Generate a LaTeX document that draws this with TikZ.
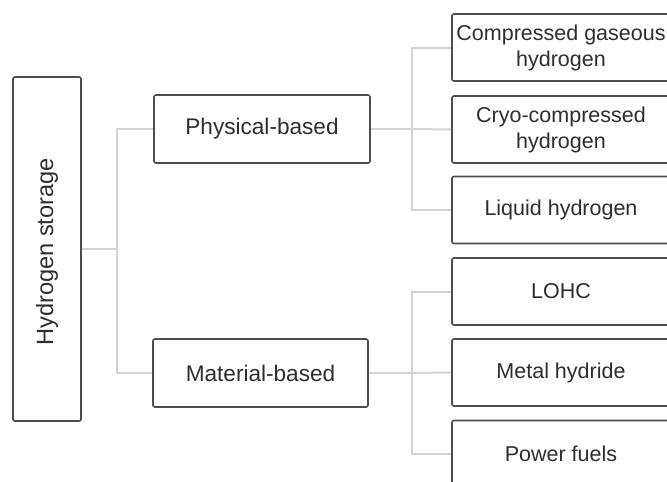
\documentclass[tikz,border=0pt]{standalone}
\usepackage{fontspec}
\setmainfont{Liberation Sans}
\definecolor{boxline}{HTML}{4D4D4D}
\definecolor{txt}{HTML}{2E2E2E}
\definecolor{conncol}{HTML}{D4D4D4}
\begin{document}
\begin{tikzpicture}[x=1pt,y=-1pt,
  box/.style={draw=boxline,line width=1.6pt,rounded corners=2pt,fill=white,
    text=txt,align=center,inner sep=0pt,
    font=\fontsize{21.5}{26}\selectfont},
  midbox/.style={box,font=\fontsize{22.6}{27}\selectfont},
  conn/.style={draw=conncol,line width=2pt}]
\useasboundingbox (0,0) rectangle (667,482);
\clip (0,0) rectangle (667,482);
\fill[white] (0,0) rectangle (667,482);
% nodes
\node[box,minimum width=68pt,minimum height=344pt] (root) at (47,249) {};
\node[rotate=90,text=txt,font=\fontsize{23.6}{28}\selectfont] (roottxt) at (47,252) {Hydrogen storage};
\node[midbox,minimum width=216pt,minimum height=68pt] (phys) at (262,129) {Physical-based};
\node[midbox,minimum width=215pt,minimum height=68pt] (mat) at (260.5,373) {Material-based};
\node[box,minimum width=218pt,minimum height=67pt] (c1) at (561,47.5) {Compressed gaseous\\hydrogen};
\node[box,minimum width=218pt,minimum height=67pt] (c2) at (561,129.5) {Cryo-compressed\\hydrogen};
\node[box,minimum width=218pt,minimum height=67pt] (c3) at (561,210) {Liquid hydrogen};
\node[box,minimum width=218pt,minimum height=67pt] (c4) at (561,291.5) {LOHC};
\node[box,minimum width=218pt,minimum height=67pt] (c5) at (561,372.5) {Metal hydride};
\node[box,minimum width=218pt,minimum height=67pt] (c6) at (561,454) {Power fuels};
% bus points
\coordinate (b1) at (117,249);
\coordinate (p) at (412,129);
\coordinate (m) at (412,373);
% connectors
\draw[conn] (root.east) -- (b1);
\draw[conn] (phys.west) -| (b1) |- (mat.west);
\draw[conn] (phys.east) -- (p);
\draw[conn] (c1.west) -| (p) |- (c3.west);
\draw[conn] (p) -- (c2.west);
\draw[conn] (mat.east) -- (m);
\draw[conn] (c4.west) -| (m) |- (c6.west);
\draw[conn] (m) -- (c5.west);
\end{tikzpicture}
\end{document}
